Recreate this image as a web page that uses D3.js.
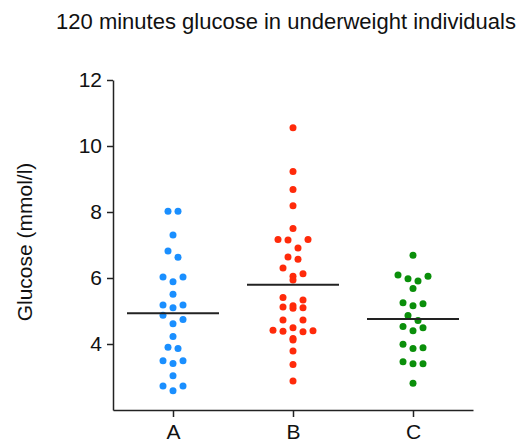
<!DOCTYPE html>
<html>
<head>
<meta charset="utf-8">
<script src="https://cdn.jsdelivr.net/npm/d3@7"></script>
<style>
  body { margin: 0; background: #fff; }
  text { font-family: "Liberation Sans", Arial, sans-serif; }
</style>
</head>
<body>
<svg id="chart"></svg>
<script>
// values (mmol/l)
const groups = ['A', 'B', 'C'];
const groupA = [8.02, 8.02, 7.30, 6.82, 6.63, 6.03, 6.03, 5.89, 5.51, 5.18, 5.18, 5.10,
    4.87, 4.74, 4.61, 4.23, 3.90, 3.86, 3.49, 3.49, 3.41, 3.04, 2.73, 2.73, 2.58];
const groupB = [10.55, 9.23, 8.68, 8.19, 7.50, 7.17, 7.17, 7.15, 6.91, 6.64, 6.57, 6.30,
    6.13, 6.05, 5.94, 5.41, 5.33, 5.16, 5.12, 5.10, 5.08, 4.73, 4.73, 4.49, 4.42, 4.40,
    4.39, 4.37, 4.17, 4.12, 3.79, 3.38, 2.88];
const groupC = [6.69, 6.09, 6.05, 5.98, 5.91, 5.68, 5.25, 5.22, 5.16, 4.86, 4.71, 4.53,
    4.49, 4.40, 3.99, 3.89, 3.86, 3.46, 3.40, 3.40, 2.81];
const colors = ['#1a8fff', '#ff2a0a', '#0a8f0a'];
const yTicks = [4, 6, 8, 10, 12];

const width = 528;
const height = 442;
const margin = { top: 80, right: 55, bottom: 32, left: 113 };
const innerWidth = width - margin.left - margin.right;
const innerHeight = height - margin.top - margin.bottom;

const svg = d3.select('#chart')
    .attr('width', width)
    .attr('height', height);

const g = svg.append('g')
    .attr('transform', `translate(${margin.left}, ${margin.top})`);

const xScale = d3.scalePoint()
    .domain(groups)
    .range([0, innerWidth])
    .padding(0.5);

const yScale = d3.scaleLinear()
    .domain([2, 12])
    .range([innerHeight, 0]);

// y axis
const yAxisG = g.append('g')
    .call(d3.axisLeft(yScale).tickValues(yTicks).tickSize(6).tickSizeOuter(0).tickPadding(5));

// x axis
const xAxisG = g.append('g')
    .attr('transform', `translate(0, ${innerHeight})`)
    .call(d3.axisBottom(xScale).tickSize(7).tickSizeOuter(0).tickPadding(7));

[yAxisG, xAxisG].forEach(a => {
    a.select('.domain').attr('stroke', '#222').attr('stroke-width', 1.5);
    a.selectAll('.tick line').attr('stroke', '#222').attr('stroke-width', 1.5);
    a.selectAll('.tick text')
        .attr('fill', '#111')
        .style('font-size', '21px')
        .style('font-family', '"Liberation Sans", Arial, sans-serif');
});

// simple scatter-dot layout: values close together share a row
const dotGap = 10;
const rowPx = 8.7;
function layout(values) {
    const sorted = values.slice().sort((a, b) => b - a);
    const rows = [];
    sorted.forEach(v => {
        const row = rows[rows.length - 1];
        if (row && yScale(v) - yScale(row[0]) <= rowPx) row.push(v);
        else rows.push([v]);
    });
    const out = [];
    rows.forEach(row => {
        const n = row.length;
        const slots = d3.range(n).map(i => (i - (n - 1) / 2) * dotGap);
        // outside slots first, left before right
        slots.sort((a, b) => Math.abs(b) - Math.abs(a) || a - b);
        row.forEach((v, i) => out.push({ value: v, dx: slots[i] }));
    });
    return out;
}

const series = [groupA, groupB, groupC];

series.forEach((vals, i) => {
    const cx = xScale(groups[i]);
    g.append('g')
        .attr('fill', colors[i])
        .selectAll('circle')
        .data(layout(vals))
        .enter()
        .append('circle')
        .attr('cx', d => cx + d.dx)
        .attr('cy', d => yScale(d.value))
        .attr('r', 3.5);

    // mean line
    const m = d3.mean(vals);
    g.append('line')
        .attr('x1', cx - 46)
        .attr('x2', cx + 46)
        .attr('y1', yScale(m))
        .attr('y2', yScale(m))
        .attr('stroke', '#222')
        .attr('stroke-width', 2);
});

svg.append('text')
    .attr('x', 286)
    .attr('y', 29)
    .attr('text-anchor', 'middle')
    .style('font-size', '22px')
    .attr('fill', '#111')
    .text('120 minutes glucose in underweight individuals');

svg.append('text')
    .attr('transform', `translate(32, 242) rotate(-90)`)
    .attr('text-anchor', 'middle')
    .style('font-size', '21px')
    .attr('fill', '#111')
    .text('Glucose (mmol/l)');
</script>
</body>
</html>
